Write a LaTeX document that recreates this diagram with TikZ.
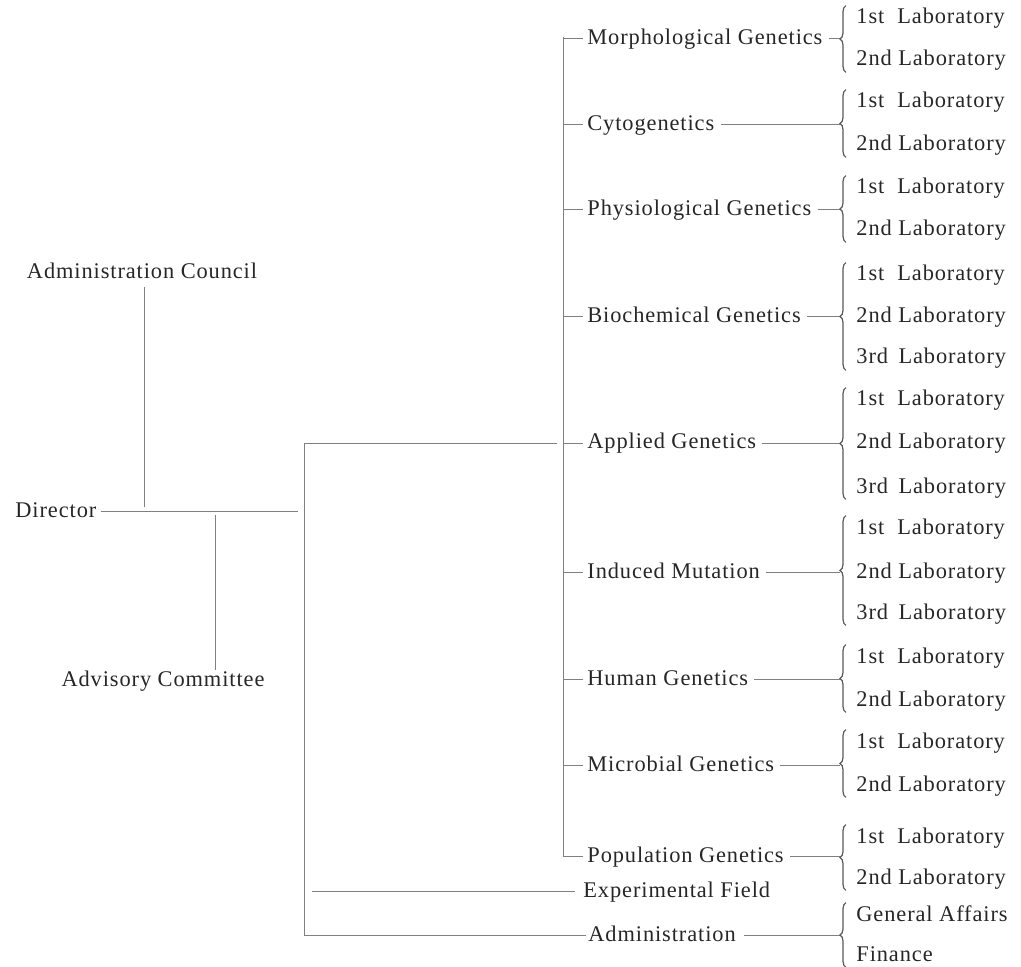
\documentclass[tikz,border=0pt]{standalone}
\usepackage{fontspec}
\setmainfont{Liberation Serif}[LetterSpace=4]
\usetikzlibrary{decorations.pathreplacing}
\tikzset{
  lbl/.style={inner sep=0pt, anchor=west, text height=8pt, text depth=2pt, text=black!85},
  wire/.style={draw=black!50, line width=0.5pt},
  brc/.style={draw=black!65, line width=0.6pt, decorate, decoration={brace, amplitude=3pt}},
}
\begin{document}
\begin{tikzpicture}[x=0.5pt, y=-0.5pt, font=\fontsize{11.2}{14}\selectfont]
  \useasboundingbox (0,0) rectangle (1021,967);
  % left part
  \node[lbl, anchor=center] (council) at (142,273) {Administration Council};
  \node[lbl] (director) at (15,511) {Director};
  \node[lbl, anchor=center] (advisory) at (163,680) {Advisory Committee};
  \coordinate (dirend) at (298,511);
  \coordinate (cjoin) at (144,507);
  \coordinate (ajoin) at (215,515);
  \draw[wire] ([xshift=2pt]director.east) -- (dirend);
  \draw[wire, shorten <=2pt] (council.south -| cjoin) -- (cjoin);
  \draw[wire] (ajoin) -- (advisory.north -| ajoin);
  % divisions
  \node[lbl] (morph) at (587,39) {Morphological Genetics};
  \node[lbl] (cyto) at (587,125) {Cytogenetics};
  \node[lbl] (physio) at (587,210) {Physiological Genetics};
  \node[lbl] (biochem) at (587,317) {Biochemical Genetics};
  \node[lbl] (applied) at (587,443) {Applied Genetics};
  \node[lbl] (induced) at (587,572) {Induced Mutation};
  \node[lbl] (human) at (587,679) {Human Genetics};
  \node[lbl] (microbial) at (587,765) {Microbial Genetics};
  \node[lbl] (population) at (587,856) {Population Genetics};
  \node[lbl] (field) at (583,891) {Experimental Field};
  \node[lbl] (admin) at (588,935) {Administration};
  % laboratories
  \node[lbl] (morph1) at (856,18) {1st~~Laboratory};
  \node[lbl] (morph2) at (856,60) {2nd Laboratory};
  \node[lbl] (cyto1) at (856,102) {1st~~Laboratory};
  \node[lbl] (cyto2) at (856,145) {2nd Laboratory};
  \node[lbl] (physio1) at (856,188) {1st~~Laboratory};
  \node[lbl] (physio2) at (856,230) {2nd Laboratory};
  \node[lbl] (biochem1) at (856,275) {1st~~Laboratory};
  \node[lbl] (biochem2) at (856,317) {2nd Laboratory};
  \node[lbl] (biochem3) at (856,358) {3rd\hspace{2pt} Laboratory};
  \node[lbl] (applied1) at (856,400) {1st~~Laboratory};
  \node[lbl] (applied2) at (856,443) {2nd Laboratory};
  \node[lbl] (applied3) at (856,487) {3rd\hspace{2pt} Laboratory};
  \node[lbl] (induced1) at (856,528) {1st~~Laboratory};
  \node[lbl] (induced2) at (856,572) {2nd Laboratory};
  \node[lbl] (induced3) at (856,613) {3rd\hspace{2pt} Laboratory};
  \node[lbl] (human1) at (856,657) {1st~~Laboratory};
  \node[lbl] (human2) at (856,700) {2nd Laboratory};
  \node[lbl] (microbial1) at (856,742) {1st~~Laboratory};
  \node[lbl] (microbial2) at (856,785) {2nd Laboratory};
  \node[lbl] (population1) at (856,837) {1st~~Laboratory};
  \node[lbl] (population2) at (856,878) {2nd Laboratory};
  \node[lbl] (admin1) at (856,915) {General Affairs};
  \node[lbl] (admin2) at (856,955) {Finance};
  % trunk and spine
  \coordinate (btop) at (304,443);
  \coordinate (bbot) at (304,935);
  \coordinate (spinetop) at (563,37);
  \coordinate (spinebot) at (563,856);
  \coordinate (fstart) at (312,891);
  \coordinate (tip) at (840,0);
  \draw[wire] (557,443) -- (btop) -- (bbot) -- ([xshift=-1pt]admin.west);
  \draw[wire] (fstart) -- ([xshift=-4pt]field.west);
  \draw[wire] (spinetop) -- (spinebot);
  \foreach \u in {morph,cyto,physio,biochem,applied,induced,human,microbial,population}{
    \draw[wire] (\u.west -| spinetop) -- ([xshift=-2pt]\u.west);
    \draw[wire] ([xshift=3pt]\u.east) -- (\u.east -| tip);
  }
  \draw[wire] ([xshift=4pt]admin.east) -- (admin.east -| tip);
  % braces
  \foreach \a/\b in {morph1/morph2,cyto1/cyto2,physio1/physio2,biochem1/biochem3,
      applied1/applied3,induced1/induced3,human1/human2,microbial1/microbial2,
      population1/population2,admin1/admin2}
    \draw[brc] ([xshift=-5pt,yshift=-1pt]\b.south west) -- ([xshift=-5pt,yshift=1pt]\a.north west);
\end{tikzpicture}
\end{document}
